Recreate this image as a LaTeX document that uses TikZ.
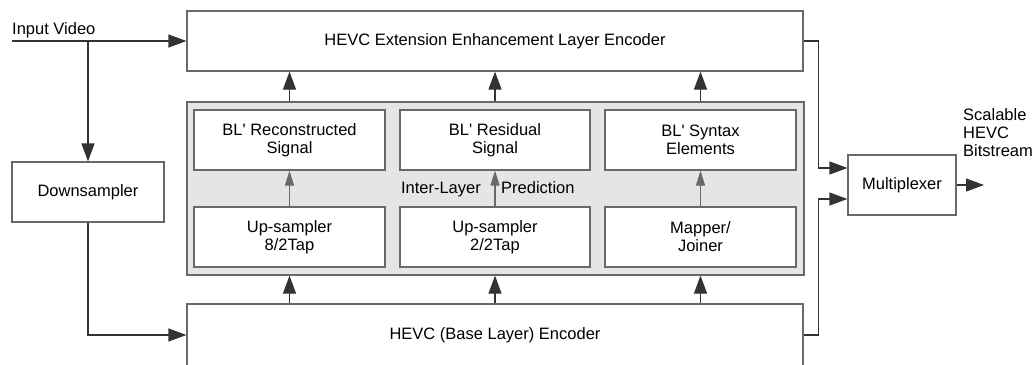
\documentclass[tikz,border=0pt]{standalone}
\usepackage{fontspec}
\setmainfont{Liberation Sans}
\usetikzlibrary{arrows.meta,calc}
\definecolor{linec}{RGB}{51,51,51}
\definecolor{boxc}{RGB}{105,105,105}
\definecolor{fillc}{RGB}{229,229,229}
\begin{document}
\begin{tikzpicture}[x=1pt, y=-1pt, >={Triangle[length=18pt,width=13pt]},
    main node/.style={draw=boxc, line width=1.2pt, fill=white, minimum height=60pt, inner sep=0pt, align=center},
    link/.style={draw=linec, line width=1.2pt, ->},
    small arrow/.style={-{Triangle[length=15pt,width=9pt]}, draw=boxc}]
        \tikzstyle{every node}=[font=\fontsize{16.5}{18}\selectfont]
        \useasboundingbox (0,0) rectangle (1035,364);
        \clip (0,0) rectangle (1035,364);

          \node[main node, minimum width=616pt] (1) at (495,41) {HEVC Extension Enhancement Layer Encoder};
          \node[main node, fill=fillc, minimum width=617pt, minimum height=173pt] (2) at (495.5,188.5) {};
          \node[main node, minimum width=191pt] (3) at (289.5,140) {BL\textquotesingle{} Reconstructed\\Signal};
          \node[main node, minimum width=190pt] (4) at (495,140) {BL\textquotesingle{} Residual\\Signal};
          \node[main node, minimum width=191pt] (5) at (700.5,140) {BL\textquotesingle{} Syntax\\Elements};
          \node[main node, minimum width=191pt] (6) at (289.5,237) {Up-sampler\\8/2Tap};
          \node[main node, minimum width=190pt] (7) at (495,237) {Up-sampler\\2/2Tap};
          \node[main node, minimum width=191pt] (8) at (700.5,237) {Mapper/\\Joiner};
          \node[main node, minimum width=616pt, minimum height=62pt] (9) at (495,335) {HEVC (Base Layer) Encoder};
          \node[main node, minimum width=152pt] (10) at (88,192) {Downsampler};
          \node[main node, minimum width=108pt] (11) at (902,185) {Multiplexer};
          \node[anchor=base west, inner sep=0pt] (12) at (12,34) {Input Video};
          \node[anchor=west, inner sep=0pt, align=left] (13) at (963,133) {Scalable\\HEVC\\Bitstream};
          \coordinate (in) at (12,41);
          \coordinate (out) at (984,185);

          \draw[link] (in) -- (1.west);
          \draw[link] (10.north |- in) -- (10.north);
          \draw[link] (10.south) |- (9.west);
          \draw[link] (1.east) -- ++(15,0) |- ($(11.west)+(0,-17)$);
          \draw[link] (9.east) -- ++(15,0) |- ($(11.west)+(0,14)$);
          \draw[link] (11.east) -- (out);

          \foreach \a/\b in {3/6, 4/7, 5/8} {
            \draw[link] (\a.north |- 2.north) -- (\a.north |- 1.south);
            \draw[link] (\b.south |- 9.north) -- (\b.south |- 2.south);
            \draw[link, small arrow] (\b.north) -- (\a.south);
          }

          \node[anchor=base east, inner sep=0pt] (14) at ($(4.south)+(-14,23)$) {Inter-Layer};
          \node[anchor=base west, inner sep=0pt] (15) at ($(4.south)+(6,23)$) {Prediction};

        \end{tikzpicture}
\end{document}
